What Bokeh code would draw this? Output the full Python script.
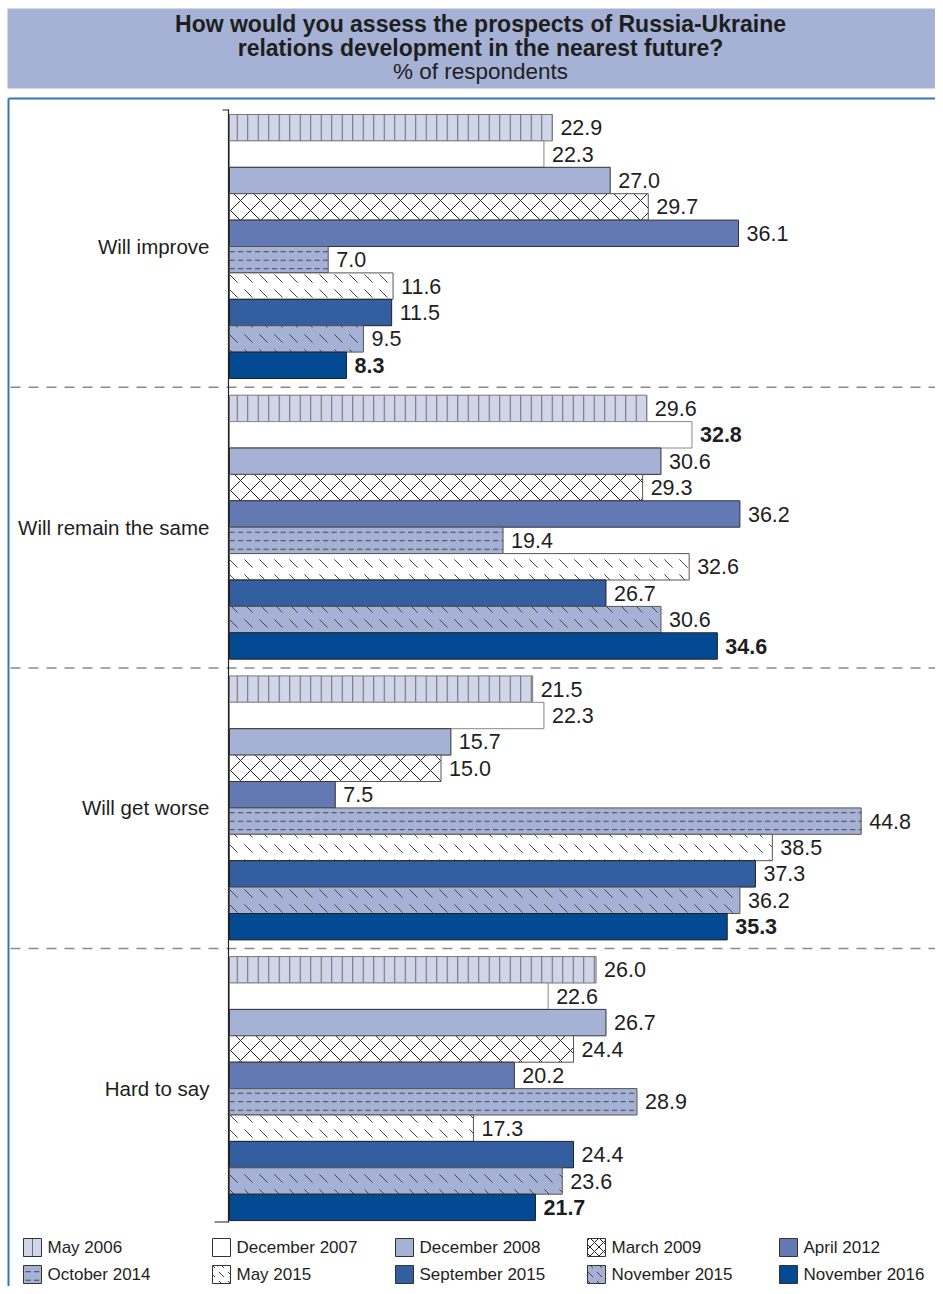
from bokeh.plotting import figure
from bokeh.models import Range1d, ColumnDataSource
from bokeh.core.properties import value
from bokeh.embed import file_html
from bokeh.resources import INLINE

# ---------------- data ----------------
categories = ["Will improve", "Will remain the same", "Will get worse", "Hard to say"]
series = ["May 2006", "December 2007", "December 2008", "March 2009", "April 2012",
          "October 2014", "May 2015", "September 2015", "November 2015", "November 2016"]
may_2006 = [22.9, 29.6, 21.5, 26.0]
dec_2007 = [22.3, 32.8, 22.3, 22.6]
dec_2008 = [27.0, 30.6, 15.7, 26.7]
mar_2009 = [29.7, 29.3, 15.0, 24.4]
apr_2012 = [36.1, 36.2, 7.5, 20.2]
oct_2014 = [7.0, 19.4, 44.8, 28.9]
may_2015 = [11.6, 32.6, 38.5, 17.3]
sep_2015 = [11.5, 26.7, 37.3, 24.4]
nov_2015 = [9.5, 30.6, 36.2, 23.6]
nov_2016 = [8.3, 34.6, 35.3, 21.7]
values_by_series = [may_2006, dec_2007, dec_2008, mar_2009, apr_2012,
                    oct_2014, may_2015, sep_2015, nov_2015, nov_2016]
bold_labels = {(1, 1)}  # (series index, category index) shown in bold, plus last series
title_lines = ["How would you assess the prospects of Russia-Ukraine",
               "relations development in the nearest future?"]
subtitle = "% of respondents"

# ---------------- styles ----------------
FONT = "Liberation Sans"
styles = [
    dict(fill="#d0d5ea", hatch="vertical_line", hscale=10.5, hcolor="#6a6a6a", line="#777777"),
    dict(fill="#ffffff", hatch=None, hscale=10, hcolor="#000000", line="#888888"),
    dict(fill="#a5b2d6", hatch=None, hscale=10, hcolor="#000000", line="#333333"),
    dict(fill="#ffffff", hatch="diagonal_cross", hscale=20, hcolor="#222222", line="#555555"),
    dict(fill="#6279b3", hatch=None, hscale=10, hcolor="#000000", line="#333333"),
    dict(fill="#a5b2d6", hatch="horizontal_dash", hscale=8.5, hcolor="#444444", line="#555555"),
    dict(fill="#ffffff", hatch="left_diagonal_dash", hscale=15, hcolor="#444444", line="#555555"),
    dict(fill="#335e9f", hatch=None, hscale=10, hcolor="#000000", line="#222222"),
    dict(fill="#a5b2d6", hatch="left_diagonal_dash", hscale=15, hcolor="#444444", line="#555555"),
    dict(fill="#034a92", hatch=None, hscale=10, hcolor="#000000", line="#222222"),
]

# ---------------- layout (picture pixels) ----------------
W, H = 935, 1286
PX_PER_UNIT = 14.1
X0 = 229
GROUP_TOP = 114
GROUP_PITCH = 280.7
BAR_H = 26.4

p = figure(width=W, height=H, output_backend="svg", toolbar_location=None,
           x_range=Range1d(0, W), y_range=Range1d(H, 0),
           min_border=0, outline_line_color=None)
p.extra_x_ranges = {"val": Range1d(-X0 / PX_PER_UNIT, (W - X0) / PX_PER_UNIT)}
p.axis.visible = False
p.grid.visible = False
p.background_fill_color = "white"

# title box
p.quad(left=[7], right=[W + 8], top=[8], bottom=[88], fill_color="#a5b2d5", line_color=None)
p.text(x=[480, 480], y=[23, 47], text=title_lines, text_font=value(FONT),
       text_font_size="23px", text_font_style="bold", text_align="center",
       text_baseline="middle", text_color="#1e1e1e")
p.text(x=[480], y=[71], text=[subtitle], text_font=value(FONT), text_font_size="22.5px",
       text_align="center", text_baseline="middle", text_color="#1e1e1e")

# blue frame
p.line(x=[8, W + 8], y=[98, 98], line_color="#3a73b5", line_width=2)
p.line(x=[8, 8], y=[98, H + 8], line_color="#3a73b5", line_width=2)

# separators
for g in range(1, len(categories)):
    ys = GROUP_TOP + GROUP_PITCH * g - 8
    p.line(x=[10, W + 8], y=[ys, ys], line_color="#8a8a8a", line_width=1.5, line_dash="10 8")

# bars
for si, vals in enumerate(values_by_series):
    st = styles[si]
    ys = [GROUP_TOP + GROUP_PITCH * g + BAR_H * si + BAR_H / 2 for g in range(len(vals))]
    src = ColumnDataSource(dict(y=ys, right=vals,
                                lab=[f"{v:.1f}" for v in vals],
                                style=["bold" if (si == len(series) - 1 or (si, g) in bold_labels) else "normal"
                                       for g in range(len(vals))]))
    kw = {}
    if st["hatch"]:
        kw = dict(hatch_pattern=st["hatch"], hatch_scale=st["hscale"],
                  hatch_color=st["hcolor"], hatch_weight=1)
    p.hbar(y="y", left=0, right="right", height=BAR_H, source=src, x_range_name="val",
           fill_color=st["fill"], line_color=st["line"], line_width=1, **kw)
    p.text(x="right", y="y", text="lab", source=src, x_range_name="val", x_offset=8,
           text_font=value(FONT), text_font_size="21.5px", text_font_style="style",
           text_baseline="middle", text_color="#1e1e1e")

# axis line with end ticks
p.line(x=[228, 228], y=[109, 1222], line_color="#222222", line_width=1.2)
p.line(x=[222, 228], y=[109.5, 109.5], line_color="#222222", line_width=1.2)
p.line(x=[214, 228], y=[1221.5, 1221.5], line_color="#222222", line_width=1.2)

# category labels
cy = [GROUP_TOP + GROUP_PITCH * g + BAR_H * len(series) / 2 for g in range(len(categories))]
p.text(x=[209] * len(categories), y=cy, text=categories, text_font=value(FONT),
       text_font_size="20.5px", text_align="right", text_baseline="middle", text_color="#1e1e1e")

# legend
leg_x = [23, 212, 395, 587, 779]
leg_y = [1247, 1274]
for si, name in enumerate(series):
    st = styles[si]
    lx = leg_x[si % 5]
    ly = leg_y[si // 5]
    kw = {}
    if st["hatch"]:
        kw = dict(hatch_pattern=st["hatch"], hatch_scale=min(st["hscale"], 9),
                  hatch_color=st["hcolor"], hatch_weight=1)
    p.quad(left=[lx], right=[lx + 18], top=[ly - 9], bottom=[ly + 9], fill_color=st["fill"],
           line_color="#333333", line_width=1, **kw)
    p.text(x=[lx + 24], y=[ly], text=[name], text_font=value(FONT), text_font_size="17px",
           text_baseline="middle", text_color="#1e1e1e")

open("out.html", "w").write(file_html(p, INLINE))
